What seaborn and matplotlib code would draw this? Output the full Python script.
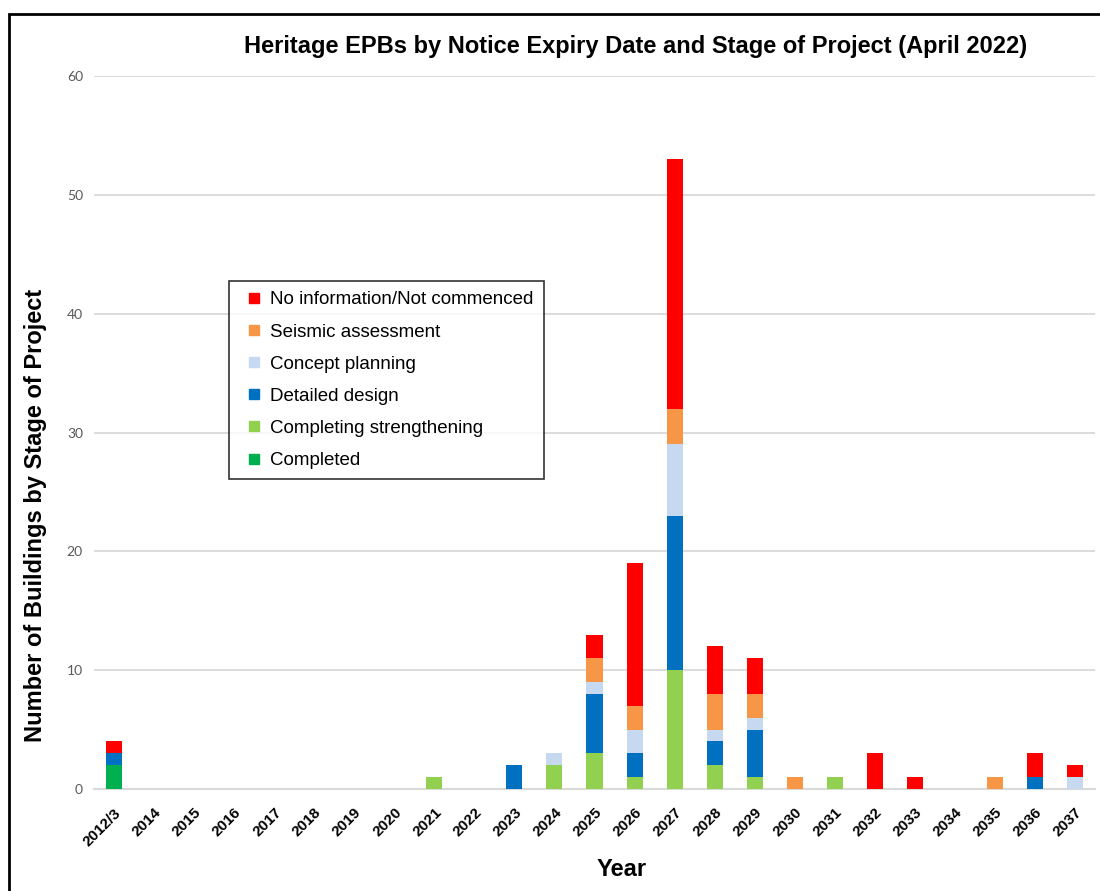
import matplotlib
matplotlib.use("Agg")
import matplotlib.pyplot as plt
import matplotlib.patches as mpatches
from matplotlib.lines import Line2D
import pandas as pd
import seaborn as sns

years = ["2012/3", "2014", "2015", "2016", "2017", "2018", "2019", "2020",
         "2021", "2022", "2023", "2024", "2025", "2026", "2027", "2028",
         "2029", "2030", "2031", "2032", "2033", "2034", "2035", "2036", "2037"]

completed = [2, 0, 0, 0, 0, 0, 0, 0, 0, 0, 0, 0, 0, 0, 0, 0, 0, 0, 0, 0, 0, 0, 0, 0, 0]
completing = [0, 0, 0, 0, 0, 0, 0, 0, 1, 0, 0, 2, 3, 1, 10, 2, 1, 0, 1, 0, 0, 0, 0, 0, 0]
detailed = [1, 0, 0, 0, 0, 0, 0, 0, 0, 0, 2, 0, 5, 2, 13, 2, 4, 0, 0, 0, 0, 0, 0, 1, 0]
concept = [0, 0, 0, 0, 0, 0, 0, 0, 0, 0, 0, 1, 1, 2, 6, 1, 1, 0, 0, 0, 0, 0, 0, 0, 1]
seismic = [0, 0, 0, 0, 0, 0, 0, 0, 0, 0, 0, 0, 2, 2, 3, 3, 2, 1, 0, 0, 0, 0, 1, 0, 0]
no_info = [1, 0, 0, 0, 0, 0, 0, 0, 0, 0, 0, 0, 2, 12, 21, 4, 3, 0, 0, 3, 1, 0, 0, 2, 1]

stages = ["No information/Not commenced", "Seismic assessment", "Concept planning",
          "Detailed design", "Completing strengthening", "Completed"]
colors = ["#FF0000", "#F79646", "#C6D9F1", "#0070C0", "#92D050", "#00B050"]

df = pd.DataFrame({
    "Year": years,
    "Completed": completed,
    "Completing strengthening": completing,
    "Detailed design": detailed,
    "Concept planning": concept,
    "Seismic assessment": seismic,
    "No information/Not commenced": no_info,
})

# cumulative heights, bottom stage first
stack_order = stages[::-1]
cum = df[stack_order].cumsum(axis=1)

fig = plt.figure(figsize=(11, 8.91), dpi=100)
ax = fig.add_axes([94 / 1100, 1 - 789 / 891, 1001 / 1100, 713 / 891])

# draw tallest cumulative first so lower stages sit on top
for stage, color in zip(stages, colors):
    sns.barplot(x=df["Year"], y=cum[stage], color=color, width=0.4,
                saturation=1, label=stage, ax=ax, zorder=3)

ax.set_ylim(0, 60)
ax.set_xlim(-0.5, len(years) - 0.5)
ax.set_yticks(range(0, 61, 10))
ax.yaxis.grid(True, color="#D9D9D9", lw=1.3)
ax.set_axisbelow(True)
for s in ["top", "right", "left"]:
    ax.spines[s].set_visible(False)
ax.spines["bottom"].set_color("#D9D9D9")
ax.spines["bottom"].set_linewidth(1.5)
ax.tick_params(axis="both", length=0)
ax.tick_params(axis="y", pad=8, labelcolor="#595959", labelsize=10)
for t in ax.get_yticklabels():
    t.set_fontfamily("Lato")
ax.set_xticks(range(len(years)))
ax.set_xticklabels(years, rotation=45, ha="right", rotation_mode="anchor",
                   fontweight="bold", fontsize=11, fontfamily="Liberation Sans")
ax.tick_params(axis="x", pad=12)
ax.set_xlabel("")
ax.set_ylabel("")

fig.text(636 / 1100, 1 - 46 / 891, "Heritage EPBs by Notice Expiry Date and Stage of Project (April 2022)",
         ha="center", va="center", fontsize=17, fontweight="bold", fontfamily="Liberation Sans")
fig.text(36 / 1100, 1 - 515 / 891, "Number of Buildings by Stage of Project",
         ha="center", va="center", rotation=90, fontsize=17, fontweight="bold",
         fontfamily="Liberation Sans")
fig.text(622 / 1100, 1 - 869 / 891, "Year", ha="center", va="center",
         fontsize=17, fontweight="bold", fontfamily="Liberation Sans")

handles = [Line2D([], [], marker="s", linestyle="", markersize=7.5, color=c, label=s)
           for s, c in zip(stages, colors)]
leg = ax.legend(handles=handles, loc="upper left",
                bbox_to_anchor=((229 - 94) / 1001, (789 - 281) / 713),
                borderaxespad=0, frameon=True, fancybox=False, edgecolor="black",
                handlelength=1.55, handletextpad=0.1,
                labelspacing=0.8, borderpad=0.55,
                prop={"family": "Liberation Sans", "size": 13.5})
leg.get_frame().set_linewidth(1.2)

frame = mpatches.Rectangle((9 / 1100, -0.1), 2, 1 - 14 / 891 + 0.1,
                           transform=fig.transFigure, fill=False,
                           edgecolor="black", lw=2, clip_on=False)
fig.patches.append(frame)

fig.savefig("out.png", dpi=100, facecolor="white")
